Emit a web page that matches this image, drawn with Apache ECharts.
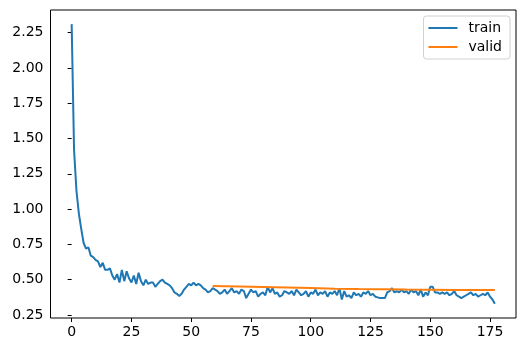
<!DOCTYPE html>
<html>
<head>
<meta charset="utf-8">
<script src="https://cdn.jsdelivr.net/npm/echarts@6/dist/echarts.min.js"></script>
<style>
  html, body { margin: 0; padding: 0; background: #fff; }
  #lossChart { width: 525px; height: 351px; }
</style>
</head>
<body>
<div id="lossChart"></div>
<script>
// train loss, one value per epoch (0..177)
var trainLoss = [
  2.31, 1.42, 1.13, 0.97, 0.86, 0.76, 0.72, 0.73, 0.67, 0.66,
  0.64, 0.63, 0.59, 0.62, 0.57, 0.57, 0.58, 0.53, 0.50, 0.54,
  0.48, 0.57, 0.49, 0.56, 0.51, 0.48, 0.53, 0.47, 0.55, 0.49,
  0.46, 0.50, 0.47, 0.48, 0.48, 0.45, 0.47, 0.49, 0.50, 0.48,
  0.47, 0.46, 0.44, 0.41, 0.40, 0.385, 0.40, 0.43, 0.45, 0.47,
  0.46, 0.48, 0.46, 0.47, 0.46, 0.44, 0.43, 0.41, 0.42, 0.44,
  0.43, 0.42, 0.40, 0.41, 0.43, 0.40, 0.42, 0.44, 0.41, 0.42,
  0.40, 0.43, 0.42, 0.37, 0.40, 0.43, 0.41, 0.42, 0.38, 0.40,
  0.41, 0.39, 0.45, 0.41, 0.44, 0.40, 0.41, 0.38, 0.39, 0.42,
  0.41, 0.40, 0.42, 0.39, 0.43, 0.41, 0.39, 0.40, 0.42, 0.38,
  0.41, 0.40, 0.43, 0.39, 0.41, 0.40, 0.42, 0.38, 0.41, 0.40,
  0.42, 0.39, 0.44, 0.36, 0.42, 0.38, 0.39, 0.37, 0.41, 0.39,
  0.40, 0.38, 0.41, 0.40, 0.42, 0.39, 0.40, 0.38, 0.375, 0.37,
  0.37, 0.37, 0.41, 0.42, 0.44, 0.41, 0.42, 0.41, 0.43, 0.41,
  0.42, 0.40, 0.43, 0.41, 0.42, 0.39, 0.43, 0.38, 0.41, 0.39,
  0.45, 0.45, 0.41, 0.41, 0.40, 0.41, 0.40, 0.41, 0.39, 0.40,
  0.42, 0.39, 0.38, 0.37, 0.38, 0.39, 0.40, 0.41, 0.39, 0.40,
  0.38, 0.39, 0.40, 0.39, 0.41, 0.38, 0.36, 0.33
];
// valid loss, read at a few epochs
var validEpochs = [59, 70, 80, 90, 100, 110, 120, 130, 140, 150, 160, 170, 177];
var validLoss = [0.455, 0.452, 0.449, 0.445, 0.441, 0.437, 0.434, 0.432, 0.430, 0.429, 0.428, 0.428, 0.428];

var xTicks = [0, 25, 50, 75, 100, 125, 150, 175];
var yTicks = [0.25, 0.5, 0.75, 1.0, 1.25, 1.5, 1.75, 2.0, 2.25];

var trainData = trainLoss.map(function (v, i) { return [i, v]; });
var validData = validEpochs.map(function (e, i) { return [e, validLoss[i]]; });

var chart = echarts.init(document.getElementById('lossChart'));
var font = 'DejaVu Sans';

var option = {
  animation: false,
  color: ['#1f77b4', '#ff7f0e'],
  grid: {
    left: 50.5, right: 9, top: 10, bottom: 33,
    show: true, borderColor: '#000', borderWidth: 1
  },
  legend: {
    orient: 'vertical',
    right: 15, top: 16,
    padding: [5, 8, 5, 5],
    itemGap: 5,
    itemWidth: 29,
    itemHeight: 2,
    icon: 'rect',
    borderColor: '#d0d0d0', borderWidth: 1, borderRadius: 3,
    textStyle: { fontFamily: font, fontSize: 14, color: '#000', padding: [0, 0, 0, 6] },
    data: ['train', 'valid']
  },
  xAxis: {
    type: 'value',
    min: -8.85, max: 185.85,
    splitLine: { show: false },
    axisLine: { show: false },
    axisTick: { show: true, length: 4, lineStyle: { color: '#000' }, customValues: xTicks },
    axisLabel: { fontFamily: font, fontSize: 14, color: '#000', margin: 7, customValues: xTicks }
  },
  yAxis: {
    type: 'value',
    min: 0.229, max: 2.41,
    splitLine: { show: false },
    axisLine: { show: false },
    axisTick: { show: true, length: 4, lineStyle: { color: '#000' }, customValues: yTicks },
    axisLabel: {
      fontFamily: font, fontSize: 14, color: '#000', margin: 7, customValues: yTicks,
      formatter: function (v) { return v.toFixed(2); }
    }
  },
  series: [
    {
      name: 'train', type: 'line', data: trainData,
      showSymbol: false, lineStyle: { width: 2 }
    },
    {
      name: 'valid', type: 'line', data: validData,
      showSymbol: false, lineStyle: { width: 2 }
    }
  ]
};

chart.setOption(option);
</script>
</body>
</html>
